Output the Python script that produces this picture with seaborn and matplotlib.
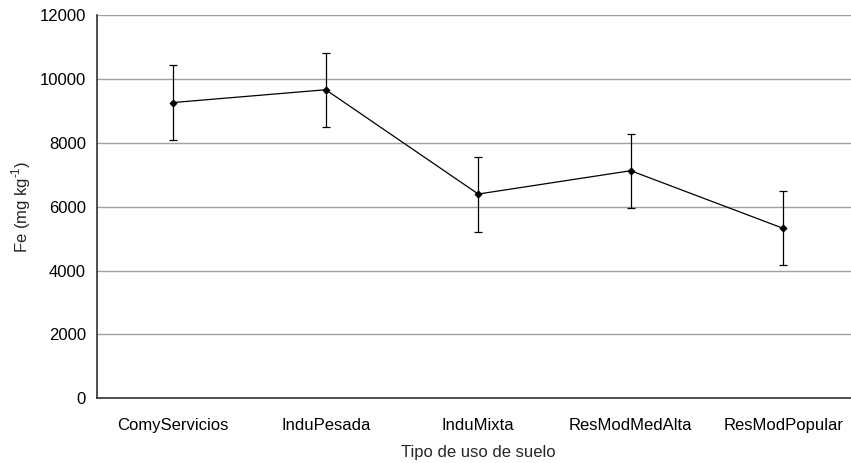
import matplotlib
matplotlib.use("Agg")
import matplotlib.pyplot as plt
import seaborn as sns
import pandas as pd
import numpy as np

categories = ["ComyServicios", "InduPesada", "InduMixta", "ResModMedAlta", "ResModPopular"]
fe_mean = [9260, 9660, 6395, 7125, 5320]
fe_err = [1160, 1160, 1175, 1160, 1160]
y_ticks = [0, 2000, 4000, 6000, 8000, 10000, 12000]

sns.set_theme(style="white")
plt.rcParams["font.family"] = ["Liberation Sans", "DejaVu Sans"]
plt.rcParams["mathtext.fontset"] = "custom"
plt.rcParams["mathtext.rm"] = "Liberation Sans"

df = pd.DataFrame({"pos": np.arange(len(categories)), "Fe": fe_mean, "err": fe_err})

fig = plt.figure(figsize=(8.51, 4.63), dpi=100)
ax = fig.add_axes([97 / 851, 1 - 398.3 / 463, 762.5 / 851, (398.3 - 15) / 463])

# horizontal gridlines
for v in y_ticks[1:]:
    ax.axhline(v, color="#a0a0a0", lw=1.0, zorder=0)

ax.errorbar(df["pos"], df["Fe"], yerr=df["err"], fmt="none", ecolor="black",
            elinewidth=0.9, capsize=3, capthick=0.9, zorder=2)
sns.lineplot(data=df, x="pos", y="Fe", ax=ax, color="black", lw=0.9,
             marker="D", markersize=3.5, markeredgecolor="black", zorder=3)

ax.set_xlim(-0.5, len(categories) - 0.5)
ax.set_ylim(0, 12000)
ax.set_yticks(y_ticks)
ax.set_yticklabels([str(v) for v in y_ticks], fontsize=12, color="black")

ax.set_xticks(df["pos"])
ax.set_xticklabels(categories, fontsize=12, color="black")
ax.set_xticks(np.arange(-0.5, len(categories), 1.0), minor=True)
ax.tick_params(axis="x", which="major", length=0, pad=14)
ax.tick_params(axis="x", which="minor", length=5, width=1, color="#404040", direction="out")
ax.tick_params(axis="y", which="major", length=5, width=1, color="#404040", direction="out", pad=3)

for side in ["top", "right"]:
    ax.spines[side].set_visible(False)
for side in ["left", "bottom"]:
    ax.spines[side].set_color("#303030")
    ax.spines[side].set_linewidth(1.2)

ax.set_xlabel("Tipo de uso de suelo", fontsize=12, labelpad=9)
ax.set_ylabel("Fe (mg kg$^{\\text{-1}}$)", fontsize=12, labelpad=5)

fig.savefig("out.png", dpi=100)
